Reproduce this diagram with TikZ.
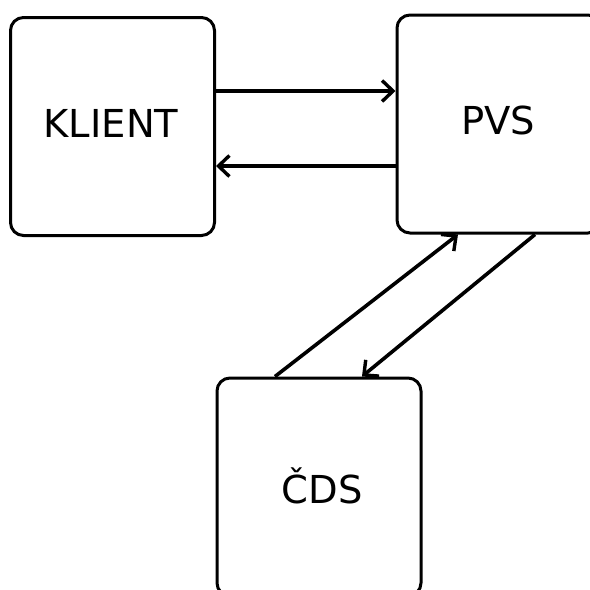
\documentclass[tikz,border=0pt]{standalone}
\usepackage{fontspec}
\setmainfont{DejaVu Sans}
\usetikzlibrary{arrows.meta}
\begin{document}
\begin{tikzpicture}[x=1pt,y=-1pt,
  box/.style={draw, line width=3pt, rounded corners=13pt, minimum width=204pt,
    minimum height=218pt, inner sep=0pt},
  caption/.style={anchor=base, inner sep=0pt, font=\fontsize{38.5}{40}\selectfont},
  link/.style={line width=3.6pt, -{Straight Barb[length=11pt,width=21pt,line width=3.4pt]}}]
  \useasboundingbox (0,0) rectangle (590,590);
  \clip (0,0) rectangle (590,590);
  % the three parties
  \node[box] (kl)  at (112.5,126.5) {};
  \node[box] (pvs) at (499,124) {};
  \node[box] (cds) at (319,487) {};
  \node[caption] (klt)  at (111,137) {KLIENT};
  \node[caption] (pvst) at (498,134) {PVS};
  \node[caption] (cdst) at (322,503) {ČDS};
  % client <-> PVS
  \draw[link] (kl.east |- 0,91) -- (pvs.west |- 0,91);
  \draw[link] (pvs.west |- 0,166) -- (kl.east |- 0,166);
  % PVS <-> ČDS
  \draw[link] (cds.north -| 275,0) -- (pvs.south -| 458,0);
  \draw[link] (pvs.south -| 535,0) -- (cds.north -| 362,0);
\end{tikzpicture}
\end{document}
